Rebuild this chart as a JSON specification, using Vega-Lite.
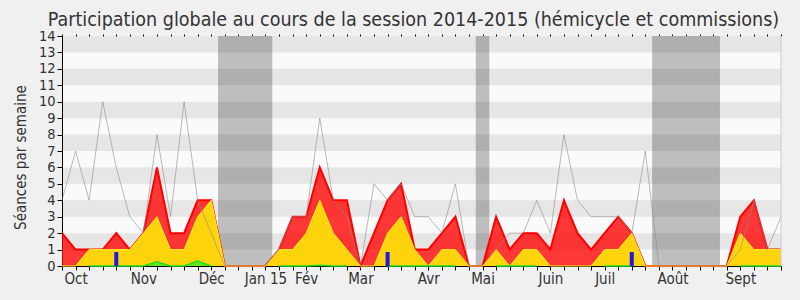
{
  "$schema": "https://vega.github.io/schema/vega-lite/v6.json",
  "width": 719,
  "height": 230,
  "autosize": {"type": "none"},
  "padding": {"left": 62, "top": 36, "right": 19, "bottom": 34},
  "background": "#f0f0f0",
  "config": {
    "view": {"fill": "#fafafa", "stroke": null},
    "font": "DejaVu Sans Condensed",
    "axis": {
      "labelFont": "DejaVu Sans Condensed",
      "titleFont": "DejaVu Sans Condensed",
      "labelColor": "#333333",
      "titleColor": "#333333",
      "domainColor": "#000000",
      "tickColor": "#000000",
      "grid": false,
      "zindex": 1,
      "labelOverlap": false,
      "labelFlush": false,
      "labelBound": false
    }
  },
  "title": {
    "text": "Participation globale au cours de la session 2014-2015 (hémicycle et commissions)",
    "font": "DejaVu Sans Condensed",
    "fontSize": 19.5,
    "fontWeight": "normal",
    "color": "#333333",
    "anchor": "middle",
    "dx": -8,
    "offset": -2
  },
  "resolve": {"axis": {"x": "independent"}},
  "datasets": {
    "semaines": [
      {"semaine": 0, "total": 4, "presence": 2, "hemicycle": 0, "interventions": null},
      {"semaine": 1, "total": 7, "presence": 1, "hemicycle": 0, "interventions": null},
      {"semaine": 2, "total": 4, "presence": 1, "hemicycle": 1, "interventions": 0},
      {"semaine": 3, "total": 10, "presence": 1, "hemicycle": 1, "interventions": 0},
      {"semaine": 4, "total": 6, "presence": 2, "hemicycle": 1, "interventions": 0},
      {"semaine": 5, "total": 3, "presence": 1, "hemicycle": 1, "interventions": 0},
      {"semaine": 6, "total": 2, "presence": 2, "hemicycle": 2, "interventions": 0},
      {"semaine": 7, "total": 8, "presence": 6, "hemicycle": 3, "interventions": 0.25},
      {"semaine": 8, "total": 3, "presence": 2, "hemicycle": 1, "interventions": 0},
      {"semaine": 9, "total": 10, "presence": 2, "hemicycle": 1, "interventions": 0},
      {"semaine": 10, "total": 4, "presence": 4, "hemicycle": 3, "interventions": 0.3},
      {"semaine": 11, "total": 2, "presence": 4, "hemicycle": 4, "interventions": 0},
      {"semaine": 12, "total": 0, "presence": 0, "hemicycle": 0, "interventions": null},
      {"semaine": 13, "total": 0, "presence": 0, "hemicycle": 0, "interventions": null},
      {"semaine": 14, "total": 0, "presence": 0, "hemicycle": 0, "interventions": null},
      {"semaine": 15, "total": 0, "presence": 0, "hemicycle": 0, "interventions": null},
      {"semaine": 16, "total": 1, "presence": 1, "hemicycle": 1, "interventions": 0},
      {"semaine": 17, "total": 3, "presence": 3, "hemicycle": 1, "interventions": 0},
      {"semaine": 18, "total": 3, "presence": 3, "hemicycle": 2, "interventions": 0},
      {"semaine": 19, "total": 9, "presence": 6, "hemicycle": 4, "interventions": 0.05},
      {"semaine": 20, "total": 4, "presence": 4, "hemicycle": 2, "interventions": 0},
      {"semaine": 21, "total": 3, "presence": 4, "hemicycle": 1, "interventions": 0},
      {"semaine": 22, "total": 0, "presence": 0, "hemicycle": 0, "interventions": null},
      {"semaine": 23, "total": 5, "presence": 2, "hemicycle": 0, "interventions": null},
      {"semaine": 24, "total": 4, "presence": 4, "hemicycle": 2, "interventions": 0},
      {"semaine": 25, "total": 5, "presence": 5, "hemicycle": 3, "interventions": 0},
      {"semaine": 26, "total": 3, "presence": 1, "hemicycle": 1, "interventions": 0},
      {"semaine": 27, "total": 3, "presence": 1, "hemicycle": 0, "interventions": 0},
      {"semaine": 28, "total": 2, "presence": 2, "hemicycle": 1, "interventions": 0},
      {"semaine": 29, "total": 5, "presence": 3, "hemicycle": 1, "interventions": 0},
      {"semaine": 30, "total": 0, "presence": 0, "hemicycle": 0, "interventions": null},
      {"semaine": 31, "total": 0, "presence": 0, "hemicycle": 0, "interventions": null},
      {"semaine": 32, "total": 1, "presence": 3, "hemicycle": 1, "interventions": 0},
      {"semaine": 33, "total": 2, "presence": 1, "hemicycle": 0, "interventions": 0},
      {"semaine": 34, "total": 2, "presence": 2, "hemicycle": 1, "interventions": 0},
      {"semaine": 35, "total": 4, "presence": 2, "hemicycle": 1, "interventions": 0},
      {"semaine": 36, "total": 2, "presence": 1, "hemicycle": 0, "interventions": null},
      {"semaine": 37, "total": 8, "presence": 4, "hemicycle": 0, "interventions": null},
      {"semaine": 38, "total": 4, "presence": 2, "hemicycle": 0, "interventions": null},
      {"semaine": 39, "total": 3, "presence": 1, "hemicycle": 0, "interventions": null},
      {"semaine": 40, "total": 3, "presence": 2, "hemicycle": 1, "interventions": 0},
      {"semaine": 41, "total": 3, "presence": 3, "hemicycle": 1, "interventions": 0},
      {"semaine": 42, "total": 2, "presence": 2, "hemicycle": 2, "interventions": 0},
      {"semaine": 43, "total": 7, "presence": 0, "hemicycle": 0, "interventions": null},
      {"semaine": 44, "total": 0, "presence": 0, "hemicycle": 0, "interventions": null},
      {"semaine": 45, "total": 0, "presence": 0, "hemicycle": 0, "interventions": null},
      {"semaine": 46, "total": 0, "presence": 0, "hemicycle": 0, "interventions": null},
      {"semaine": 47, "total": 0, "presence": 0, "hemicycle": 0, "interventions": null},
      {"semaine": 48, "total": 0, "presence": 0, "hemicycle": 0, "interventions": null},
      {"semaine": 49, "total": 0, "presence": 0, "hemicycle": 0, "interventions": null},
      {"semaine": 50, "total": 1, "presence": 3, "hemicycle": 2, "interventions": 0},
      {"semaine": 51, "total": 4, "presence": 4, "hemicycle": 1, "interventions": 0},
      {"semaine": 52, "total": 1, "presence": 1, "hemicycle": 1, "interventions": 0},
      {"semaine": 53, "total": 3, "presence": 1, "hemicycle": 1, "interventions": 0}
    ],
    "vacances": [
      {"debut": 11.5, "fin": 15.5},
      {"debut": 30.5, "fin": 31.5},
      {"debut": 43.5, "fin": 48.5}
    ],
    "bandes": [
      {"bas": 1, "haut": 2},
      {"bas": 3, "haut": 4},
      {"bas": 5, "haut": 6},
      {"bas": 7, "haut": 8},
      {"bas": 9, "haut": 10},
      {"bas": 11, "haut": 12},
      {"bas": 13, "haut": 14}
    ],
    "questions": [
      {"semaine": 4, "valeur": 0.85},
      {"semaine": 24, "valeur": 0.85},
      {"semaine": 42, "valeur": 0.85}
    ]
  },
  "layer": [
    {
      "data": {"name": "vacances"},
      "mark": {"type": "rect", "color": "#bebebe"},
      "encoding": {
        "x": {
          "field": "debut",
          "type": "quantitative",
          "scale": {"domain": [0, 53], "nice": false, "zero": false, "padding": 0},
          "axis": {
            "orient": "bottom",
            "title": null,
            "values": [0,1,2,3,4,5,6,7,8,9,10,11,12,13,14,15,16,17,18,19,20,21,22,23,24,25,26,27,28,29,30,31,32,33,34,35,36,37,38,39,40,41,42,43,44,45,46,47,48,49,50,51,52,53],
            "labelExpr": "datum.value == 1 ? 'Oct' : datum.value == 6 ? 'Nov' : datum.value == 11 ? 'Déc' : datum.value == 15 ? 'Jan 15' : datum.value == 18 ? 'Fév' : datum.value == 22 ? 'Mar' : datum.value == 27 ? 'Avr' : datum.value == 31 ? 'Mai' : datum.value == 36 ? 'Juin' : datum.value == 40 ? 'Juil' : datum.value == 45 ? 'Août' : datum.value == 50 ? 'Sept' : ''",
            "labelFontSize": 15,
            "labelPadding": 1,
            "labelOverlap": false,
            "tickSize": 4
          }
        },
        "x2": {"field": "fin"}
      }
    },
    {
      "data": {"name": "bandes"},
      "mark": {"type": "rect", "color": "#000000", "opacity": 0.08},
      "encoding": {
        "y": {
          "field": "bas",
          "type": "quantitative",
          "scale": {"domain": [0, 14], "nice": false, "padding": 0},
          "axis": {"title": "Séances par semaine", "titleFontSize": 15, "titleFontWeight": "normal", "titlePadding": 10, "titleY": 121, "values": [0,1,2,3,4,5,6,7,8,9,10,11,12,13,14], "labelFontSize": 14.5, "labelPadding": 2, "tickSize": 5, "labelOverlap": false}
        },
        "y2": {"field": "haut"}
      }
    },
    {
      "data": {"name": "semaines"},
      "mark": {"type": "area", "color": "#ff0000", "opacity": 0.78},
      "encoding": {
        "x": {
          "field": "semaine",
          "type": "quantitative",
          "axis": {
            "orient": "top",
            "title": null,
            "labels": false,
            "domain": false,
            "tickSize": 2,
            "values": [0,1,2,3,4,5,6,7,8,9,10,11,12,13,14,15,16,17,18,19,20,21,22,23,24,25,26,27,28,29,30,31,32,33,34,35,36,37,38,39,40,41,42,43,44,45,46,47,48,49,50,51,52,53]
          }
        },
        "y": {"field": "presence", "type": "quantitative", "axis": {"title": "Séances par semaine", "titleFontSize": 15, "titleFontWeight": "normal", "titlePadding": 10, "titleY": 121, "values": [0,1,2,3,4,5,6,7,8,9,10,11,12,13,14], "labelFontSize": 14.5, "labelPadding": 2, "tickSize": 5, "labelOverlap": false}}
      }
    },
    {
      "data": {"name": "semaines"},
      "mark": {"type": "line", "color": "#ff0000", "strokeWidth": 2},
      "encoding": {
        "x": {"field": "semaine", "type": "quantitative", "axis": null},
        "y": {"field": "presence", "type": "quantitative", "axis": {"title": "Séances par semaine", "titleFontSize": 15, "titleFontWeight": "normal", "titlePadding": 10, "titleY": 121, "values": [0,1,2,3,4,5,6,7,8,9,10,11,12,13,14], "labelFontSize": 14.5, "labelPadding": 2, "tickSize": 5, "labelOverlap": false}}
      }
    },
    {
      "data": {"name": "semaines"},
      "mark": {"type": "area", "color": "#ffd40c", "opacity": 1},
      "encoding": {
        "x": {"field": "semaine", "type": "quantitative", "axis": null},
        "y": {"field": "hemicycle", "type": "quantitative", "axis": {"title": "Séances par semaine", "titleFontSize": 15, "titleFontWeight": "normal", "titlePadding": 10, "titleY": 121, "values": [0,1,2,3,4,5,6,7,8,9,10,11,12,13,14], "labelFontSize": 14.5, "labelPadding": 2, "tickSize": 5, "labelOverlap": false}}
      }
    },
    {
      "data": {"name": "semaines"},
      "mark": {"type": "line", "color": "#ffee22", "strokeWidth": 1},
      "encoding": {
        "x": {"field": "semaine", "type": "quantitative", "axis": null},
        "y": {"field": "hemicycle", "type": "quantitative", "axis": {"title": "Séances par semaine", "titleFontSize": 15, "titleFontWeight": "normal", "titlePadding": 10, "titleY": 121, "values": [0,1,2,3,4,5,6,7,8,9,10,11,12,13,14], "labelFontSize": 14.5, "labelPadding": 2, "tickSize": 5, "labelOverlap": false}}
      }
    },
    {
      "data": {"name": "semaines"},
      "mark": {"type": "area", "color": "#22ee22", "line": {"color": "#22dd22", "strokeWidth": 1.5}},
      "encoding": {
        "x": {"field": "semaine", "type": "quantitative", "axis": null},
        "y": {"field": "interventions", "type": "quantitative", "axis": {"title": "Séances par semaine", "titleFontSize": 15, "titleFontWeight": "normal", "titlePadding": 10, "titleY": 121, "values": [0,1,2,3,4,5,6,7,8,9,10,11,12,13,14], "labelFontSize": 14.5, "labelPadding": 2, "tickSize": 5, "labelOverlap": false}}
      }
    },
    {
      "data": {"name": "questions"},
      "mark": {"type": "bar", "color": "#1a1ae0", "size": 4},
      "encoding": {
        "x": {"field": "semaine", "type": "quantitative", "axis": null},
        "y": {"field": "valeur", "type": "quantitative", "axis": {"title": "Séances par semaine", "titleFontSize": 15, "titleFontWeight": "normal", "titlePadding": 10, "titleY": 121, "values": [0,1,2,3,4,5,6,7,8,9,10,11,12,13,14], "labelFontSize": 14.5, "labelPadding": 2, "tickSize": 5, "labelOverlap": false}}
      }
    },
    {
      "data": {"name": "semaines"},
      "mark": {"type": "line", "color": "#8c8c8c", "strokeWidth": 1, "opacity": 0.6},
      "encoding": {
        "x": {"field": "semaine", "type": "quantitative", "axis": null},
        "y": {"field": "total", "type": "quantitative", "axis": {"title": "Séances par semaine", "titleFontSize": 15, "titleFontWeight": "normal", "titlePadding": 10, "titleY": 121, "values": [0,1,2,3,4,5,6,7,8,9,10,11,12,13,14], "labelFontSize": 14.5, "labelPadding": 2, "tickSize": 5, "labelOverlap": false}}
      }
    },
    {
      "data": {"values": [{}]},
      "mark": {"type": "rule", "color": "#cccccc"},
      "encoding": {
        "x": {"datum": 53, "type": "quantitative", "axis": null}
      }
    }
  ]
}
